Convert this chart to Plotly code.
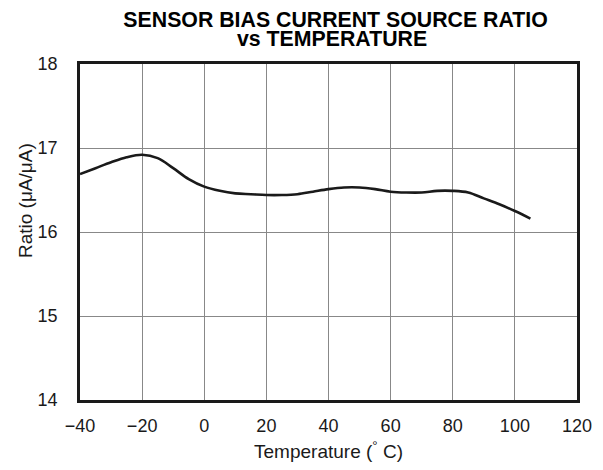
import plotly.graph_objects as go

temps = [-40, -35, -30, -25, -20, -15, -10, -5, 0, 5, 10, 15, 20, 25, 30, 35, 40, 45, 50, 55, 60, 65, 70, 75, 80, 85, 90, 95, 100, 105]
ratio = [16.69, 16.76, 16.83, 16.89, 16.92, 16.88, 16.76, 16.63, 16.54, 16.49, 16.46, 16.45, 16.44, 16.44, 16.45, 16.48, 16.51, 16.53, 16.53, 16.51, 16.48, 16.47, 16.47, 16.49, 16.49, 16.47, 16.40, 16.33, 16.25, 16.16]

x_ticks = [-40, -20, 0, 20, 40, 60, 80, 100, 120]
x_labels = ["\u221240", "\u221220", "0", "20", "40", "60", "80", "100", "120"]
y_ticks = [14, 15, 16, 17, 18]

title_line1 = "SENSOR BIAS CURRENT SOURCE RATIO"
title_line2 = "vs TEMPERATURE"
x_title = "Temperature (<sup>°</sup> C)"
y_title = "Ratio (μA/μA)"

fig = go.Figure()
fig.add_trace(go.Scatter(x=temps, y=ratio, mode="lines",
                         line=dict(color="#1a1a1a", width=2.6, shape="spline"),
                         showlegend=False, hoverinfo="skip"))

fig.update_layout(
    width=587, height=454,
    margin=dict(l=72, r=18, t=56, b=62),
    paper_bgcolor="white", plot_bgcolor="white",
    font=dict(family="Liberation Sans, Arial, sans-serif", size=18, color="#1a1a1a"),
    title=dict(text="<b>" + title_line1 + "</b>",
               x=0.558, xanchor="center", y=0.9586, yanchor="bottom",
               font=dict(size=21.3, color="black")),
    annotations=[
        dict(text="<b>" + title_line2 + "</b>", xref="paper", yref="paper",
             x=0.508, y=1.033, xanchor="center", yanchor="bottom", showarrow=False,
             font=dict(size=21.3, color="black")),
        dict(text=y_title, xref="paper", yref="paper", x=-0.1107, y=0.595,
             xanchor="center", yanchor="middle", textangle=-90, showarrow=False,
             font=dict(size=19)),
    ],
)
fig.update_xaxes(range=[-40, 120], tickvals=x_ticks, ticktext=x_labels,
                 showgrid=True, gridcolor="#888888", gridwidth=1,
                 showline=True, linecolor="#1a1a1a", linewidth=2.5, mirror=True,
                 ticks="", zeroline=False, ticklabelstandoff=8, automargin=False,
                 tickfont=dict(size=18),
                 title=dict(text=x_title, standoff=17, font=dict(size=19)))
fig.update_yaxes(range=[14, 18], tickvals=y_ticks,
                 showgrid=True, gridcolor="#888888", gridwidth=1,
                 showline=True, linecolor="#1a1a1a", linewidth=2.5, mirror=True,
                 ticks="", zeroline=False, ticklabelstandoff=16, automargin=False,
                 tickfont=dict(size=18))

fig.write_html("out.html")
